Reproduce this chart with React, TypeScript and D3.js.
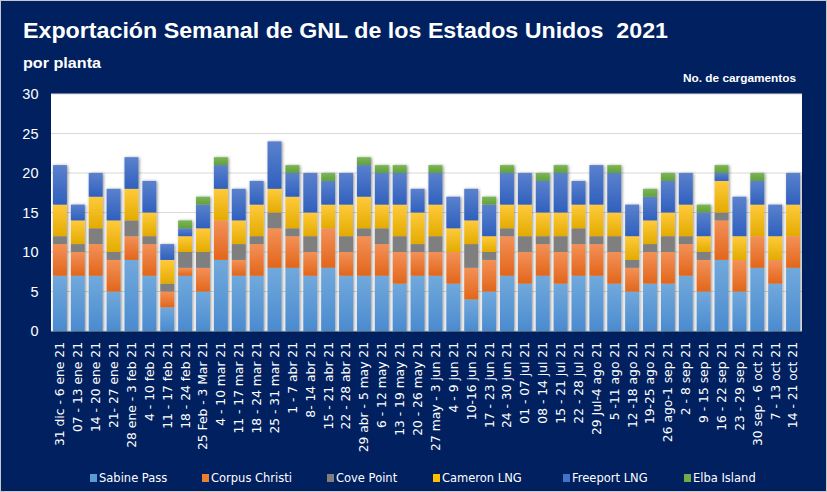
import { useMemo } from "react"
import * as d3 from "d3"

const W = 827, H = 492
const PL = 51, PT = 94, PR = 802, PB = 331

const WEEKS = [
  "31 dic - 6 ene 21", "07 - 13 ene 21", "14 - 20 ene 21", "21- 27 ene 21", "28 ene - 3 feb 21",
  "4 - 10 feb 21", "11 - 17 feb 21", "18 - 24 feb 21", "25 Feb - 3 Mar 21", "4 - 10 mar 21",
  "11 - 17 mar 21", "18 - 24 mar 21", "25 - 31 mar 21", "1 - 7 abr 21", "8- 14 abr 21",
  "15 - 21 abr 21", "22 - 28 abr 21", "29 abr - 5 may 21", "6 - 12 may 21", "13 - 19 may 21",
  "20 - 26 may 21", "27 may - 3 jun 21", "4 - 9 jun 21", "10-16 jun 21", "17 - 23 jun 21",
  "24 - 30 jun 21", "01 - 07 jul 21", "08 - 14 jul 21", "15 - 21 jul 21", "22 - 28 jul 21",
  "29 Jul-4 ago 21", "5 -11 ago 21", "12 -18 ago 21", "19-25 ago 21", "26 ago-1 sep 21",
  "2 - 8 sep 21", "9 - 15 sep 21", "16 - 22 sep 21", "23 - 29 sep 21", "30 sep - 6 oct 21",
  "7 - 13 oct 21", "14 - 21 oct 21",
]

const SERIES = ["Sabine Pass", "Corpus Christi", "Cove Point", "Cameron LNG", "Freeport LNG", "Elba Island"]

const SABINE = [7, 7, 7, 5, 9, 7, 3, 7, 5, 9, 7, 7, 8, 8, 7, 8, 7, 7, 7, 6, 7, 7, 6, 4, 5, 7, 6, 7, 6, 7, 7, 6, 5, 6, 6, 7, 5, 9, 5, 8, 6, 8]
const CORPUS = [4, 3, 4, 4, 3, 4, 2, 1, 3, 5, 2, 4, 5, 4, 3, 5, 3, 5, 4, 4, 3, 3, 4, 4, 4, 5, 4, 4, 4, 4, 4, 4, 3, 4, 4, 4, 4, 5, 4, 4, 3, 4]
const COVE = [1, 1, 2, 1, 2, 1, 1, 2, 2, 0, 2, 1, 2, 1, 2, 0, 2, 1, 2, 2, 1, 2, 0, 3, 1, 1, 2, 1, 2, 2, 1, 2, 1, 1, 2, 1, 1, 1, 0, 0, 0, 0]
const CAMERON = [4, 3, 4, 4, 4, 3, 3, 2, 3, 4, 3, 4, 3, 4, 3, 3, 4, 4, 3, 4, 4, 4, 3, 3, 2, 3, 4, 3, 3, 3, 4, 3, 3, 3, 3, 4, 2, 4, 3, 4, 3, 4]
const FREEPORT = [5, 2, 3, 4, 4, 4, 2, 1, 3, 3, 4, 3, 6, 3, 5, 3, 4, 4, 4, 4, 3, 4, 4, 4, 4, 4, 4, 4, 5, 3, 5, 5, 4, 3, 4, 4, 3, 1, 5, 3, 4, 4]
const ELBA = [0, 0, 0, 0, 0, 0, 0, 1, 1, 1, 0, 0, 0, 1, 0, 1, 0, 1, 1, 1, 0, 1, 0, 0, 1, 1, 0, 1, 1, 0, 0, 1, 0, 1, 1, 0, 1, 1, 0, 1, 0, 0]

const Y_TICKS = [0, 5, 10, 15, 20, 25, 30]

// top / bottom stops of each series' gradient, plus legend swatch colour
const GRAD: [string, string, string][] = [
  ["#72a9dc", "#4a8bcf", "#5b9bd5"],
  ["#f39158", "#e2661b", "#ed7d31"],
  ["#7f7f7f", "#7f7f7f", "#7f7f7f"],
  ["#ffca3c", "#e3ab00", "#ffc000"],
  ["#5b81cd", "#2f60bd", "#4472c4"],
  ["#7bb755", "#62a03c", "#70ad47"],
]

const FONT = "'DejaVu Sans', sans-serif"
const HEAD = "'Liberation Sans', Arial, sans-serif"

export default function App() {
  const rows = useMemo(() => WEEKS.map((w, i) => ({
    week: w,
    [SERIES[0]]: SABINE[i],
    [SERIES[1]]: CORPUS[i],
    [SERIES[2]]: COVE[i],
    [SERIES[3]]: CAMERON[i],
    [SERIES[4]]: FREEPORT[i],
    [SERIES[5]]: ELBA[i],
  })), [])

  const layers = useMemo(() => d3.stack<any>().keys(SERIES)(rows), [rows])

  const x = d3.scaleBand<string>().domain(WEEKS).range([PL, PR]).paddingInner(0.22).paddingOuter(0.11)
  const y = d3.scaleLinear().domain([0, 30]).range([PB, PT])

  const legendX = [90, 202, 327, 433, 563, 684]

  return (
    <div style={{ position: "absolute", left: 0, top: 0 }}>
      <svg width={W} height={H} style={{ display: "block" }}>
        <defs>
          {GRAD.map((g, k) => (
            <linearGradient key={k} id={`g${k}`} x1="0" y1="0" x2="0" y2="1">
              <stop offset="0%" stopColor={g[0]} />
              <stop offset="100%" stopColor={g[1]} />
            </linearGradient>
          ))}
          <filter id="shadow" x="-40%" y="-10%" width="180%" height="120%">
            <feDropShadow dx="1" dy="0.5" stdDeviation="1.5" floodColor="#000" floodOpacity="0.45" />
          </filter>
        </defs>

        <rect x={0} y={0} width={W} height={H} fill="#002060" />
        <rect x={0.5} y={0.5} width={W - 1} height={H - 1} fill="none" stroke="#c8c8c8" />

        <text x={23} y={38} fill="#fff" fontFamily={HEAD} fontWeight="bold" fontSize={21.5}
          textLength={645} lengthAdjust="spacingAndGlyphs" style={{ whiteSpace: "pre" }}>
          Exportación Semanal de GNL de los Estados Unidos  2021
        </text>
        <text x={23} y={68} fill="#fff" fontFamily={HEAD} fontWeight="bold" fontSize={14}
          textLength={78} lengthAdjust="spacingAndGlyphs">por planta</text>
        <text x={683} y={82} fill="#fff" fontFamily={HEAD} fontWeight="bold" fontSize={11}
          textLength={113} lengthAdjust="spacingAndGlyphs">No. de cargamentos</text>

        {/* plot area */}
        <rect x={PL} y={PT} width={PR - PL} height={PB - PT} fill="#fff" />
        {Y_TICKS.map(t => (
          <line key={t} x1={PL} x2={PR} y1={y(t)} y2={y(t)} stroke="#d9d9d9" strokeWidth={1.2} />
        ))}
        {Y_TICKS.map(t => (
          <text key={t} x={38.5} y={y(t)} dy="0.36em" textAnchor="end" fill="#fff"
            fontFamily={HEAD} fontSize={14.5}>{t}</text>
        ))}

        {/* bars */}
        {WEEKS.map((w, i) => (
          <g key={w} filter="url(#shadow)">
            {layers.map((l, k) => {
              const [a, b] = l[i]
              if (b - a <= 0) return null
              return (
                <rect key={k} x={x(w)} width={x.bandwidth()} y={y(b)} height={y(a) - y(b)}
                  fill={`url(#g${k})`} />
              )
            })}
          </g>
        ))}

        {/* x labels */}
        {WEEKS.map(w => (
          <text key={w} transform={`translate(${x(w)! + x.bandwidth() / 2},342) rotate(-90)`}
            dy="0.36em" textAnchor="end" fill="#fff" fontFamily={FONT} fontSize={12.3}>{w}</text>
        ))}

        {/* legend */}
        {SERIES.map((s, k) => (
          <g key={s} transform={`translate(${legendX[k]},478)`}>
            <rect x={0} y={-4} width={7} height={8} fill={GRAD[k][2]} />
            <text x={9} dy="0.36em" fill="#fff" fontFamily={FONT} fontSize={11.5}>{s}</text>
          </g>
        ))}
      </svg>
    </div>
  )
}
